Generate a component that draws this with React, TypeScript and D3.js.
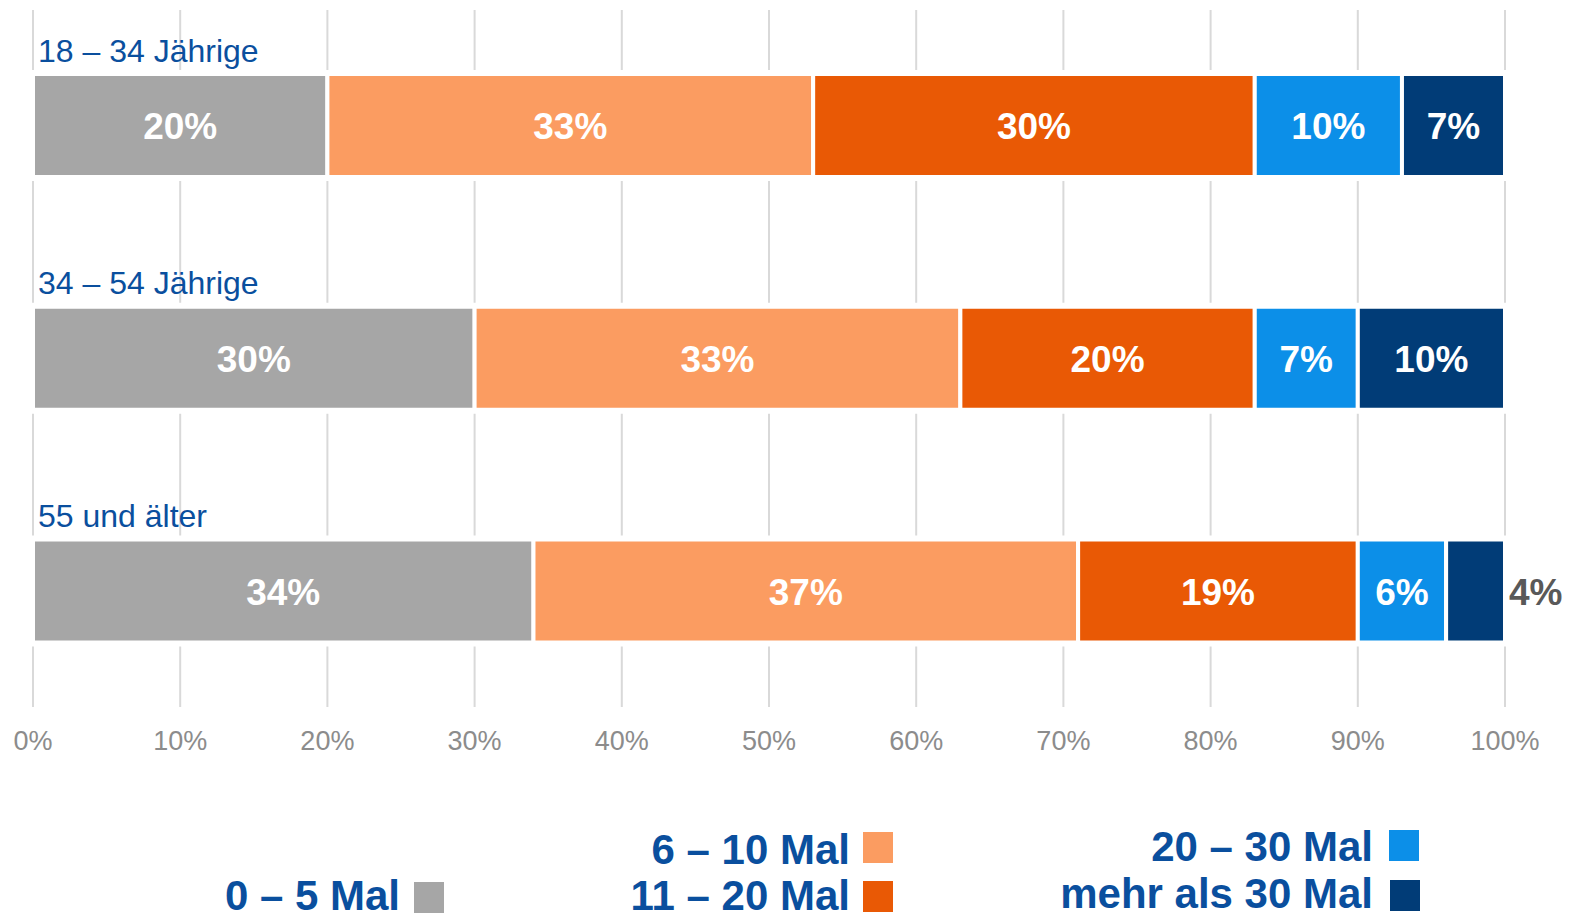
import React from "react";
import * as d3 from "d3";

const groups = ["18 – 34 Jährige", "34 – 54 Jährige", "55 und älter"];
const seriesNames = ["0 – 5 Mal", "6 – 10 Mal", "11 – 20 Mal", "20 – 30 Mal", "mehr als 30 Mal"];
const values = [
  [20, 33, 30, 10, 7],
  [30, 33, 20, 7, 10],
  [34, 37, 19, 6, 4],
];
const ticks = [0, 10, 20, 30, 40, 50, 60, 70, 80, 90, 100];

const COLORS = ["#a6a6a6", "#fb9c61", "#e95905", "#0c8fe8", "#013c77"];
const W = 1573;
const H = 915;
const FONT = "'Liberation Sans', Arial, Helvetica, sans-serif";
const BLUE = "#0a4f9e";

export default function App() {
  const x = d3.scaleLinear().domain([0, 100]).range([33, 1505]);
  const yc = d3.scalePoint<string>().domain(groups).range([125.5, 591]);
  const barH = 103;

  // legend layout: [textRightX, baselineY, squareX, squareY]
  const legendPos = [
    [400, 910, 414, 882],
    [850, 864, 863, 832],
    [850, 910, 863, 881],
    [1373, 861, 1389, 830],
    [1373, 908, 1390, 880],
  ];

  return (
    <svg
      width={W}
      height={H}
      style={{ position: "absolute", left: 0, top: 0, background: "#fff" }}
      fontFamily={FONT}
    >
      <rect x={0} y={0} width={W} height={H} fill="#fff" />
      {ticks.map((t) => (
        <line key={"g" + t} x1={x(t)} x2={x(t)} y1={10} y2={707} stroke="#d9d9d9" strokeWidth={2} />
      ))}
      {ticks.map((t) => (
        <text key={"t" + t} x={x(t)} y={750} textAnchor="middle" fontSize={27} fill="#8c8c8c">
          {t}%
        </text>
      ))}
      {groups.map((g, gi) => {
        const cy = yc(g)!;
        const top = cy - barH / 2;
        const stack = d3.cumsum([0, ...values[gi]]);
        return (
          <g key={g}>
            <rect x={x(0) - 4} y={top - 4} width={x(100) - x(0) + 8} height={barH + 8} fill="#fff" />
            {values[gi].map((v, si) => {
              const x0 = x(stack[si]);
              const x1 = x(stack[si + 1]);
              const inside = v >= 5;
              return (
                <g key={si}>
                  <rect x={x0} y={top} width={x1 - x0} height={barH} fill={COLORS[si]} stroke="#fff" strokeWidth={4} />
                  <text
                    x={inside ? (x0 + x1) / 2 : x1 + 4}
                    y={cy + 13.5}
                    textAnchor={inside ? "middle" : "start"}
                    fontSize={37}
                    fontWeight="bold"
                    fill={inside ? "#fff" : "#595959"}
                  >
                    {v}%
                  </text>
                </g>
              );
            })}
            <text x={38} y={top - 12.5} fontSize={32} fill={BLUE}>
              {g}
            </text>
          </g>
        );
      })}
      {seriesNames.map((s, si) => {
        const [tx, ty, sx, sy] = legendPos[si];
        return (
          <g key={s}>
            <text x={tx} y={ty} textAnchor="end" fontSize={42} fontWeight="bold" fill={BLUE}>
              {s}
            </text>
            <rect x={sx} y={sy} width={30} height={31} fill={COLORS[si]} />
          </g>
        );
      })}
    </svg>
  );
}
